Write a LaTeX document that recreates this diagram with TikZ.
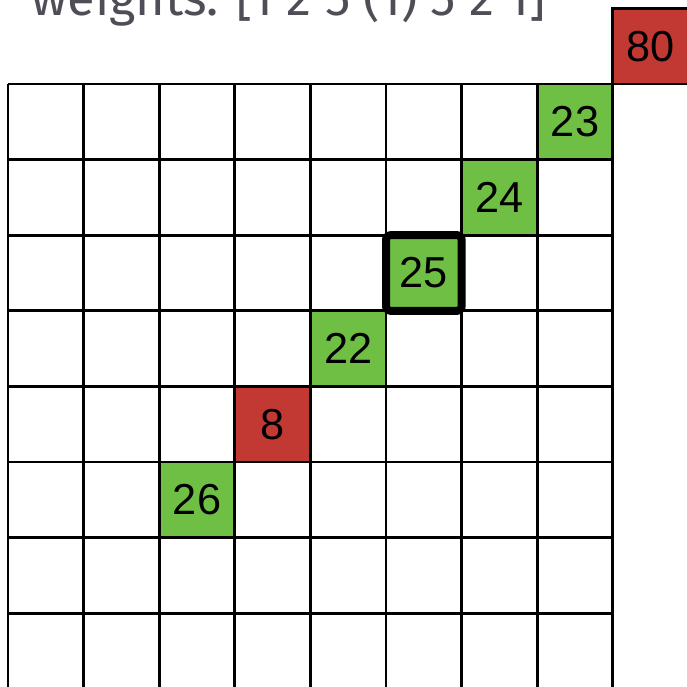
\documentclass[tikz,border=0pt]{standalone}
\usepackage{fontspec}
\setmainfont{Liberation Sans}
\newfontfamily\titlefont{Fira Sans}
\definecolor{cellgreen}{RGB}{112, 191, 69}
\definecolor{cellred}{RGB}{193, 57, 50}
\definecolor{titlegray}{RGB}{78, 78, 86}
\usetikzlibrary{positioning}

\begin{document}
\begin{tikzpicture}[
  cell/.style={draw, line width=1.1pt, minimum size=1cm, inner sep=0pt, font=\fontsize{16.3}{18}\selectfont},
  good/.style={cell, fill=cellgreen},
  bad/.style={cell, fill=cellred},
  centre/.style={draw, line width=3pt, rounded corners=1.5pt, line join=round, minimum size=1cm, inner sep=0pt}
]
  \useasboundingbox (-0.106, 0.024) rectangle (8.968, 9.111);
  \node[titlegray, font=\titlefont\fontsize{19}{22}\selectfont, anchor=base west] (title) at (0.185, 8.91) {weights: [1 2 5 (1) 5 2 1]};
  % diagonal of the window
  \node[bad]  (c80) at (8.5, 8.5) {80};
  \node[good] (c23) at (7.5, 7.5) {23};
  \node[good] (c24) at (6.5, 6.5) {24};
  \node[good] (c25) at (5.5, 5.5) {25};
  \node[good] (c22) at (4.5, 4.5) {22};
  \node[bad]  (c8)  at (3.5, 3.5) {8};
  \node[good] (c26) at (2.5, 2.5) {26};
  \draw[line width=1.1pt] (0, 0) grid (8, 8);
  \node[centre] (win) at (c25) {};
\end{tikzpicture}
\end{document}
